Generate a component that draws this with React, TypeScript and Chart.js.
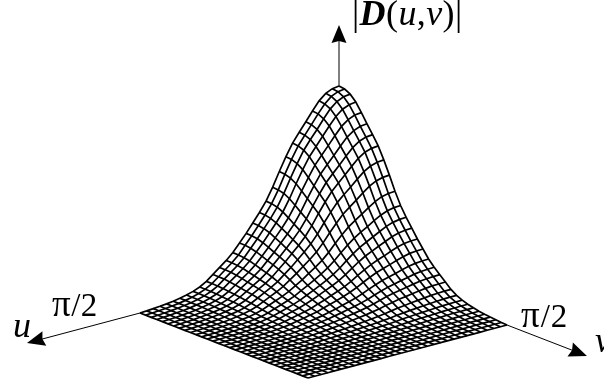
import React, { useEffect, useRef } from "react";
import { Chart, registerables } from "chart.js";

Chart.register(...registerables);

// |D(u,v)| in thousandths of the peak. Rows: u steps, columns: v steps.
const surfaceRows: number[][] = [
  [1000,995,978,945,897,845,795,743,675,600,520,450,395,345,295,250,205,170,140,110,80,58,43,32,24,17,12,8,5,2,0],
  [995,990,973,940,893,841,791,739,672,597,517,448,393,343,294,249,204,169,139,109,80,58,43,32,24,17,12,8,5,2,0],
  [978,973,956,924,877,826,778,727,660,587,509,440,386,337,289,245,200,166,137,108,78,57,42,31,23,17,12,8,5,2,0],
  [945,940,924,893,848,799,751,702,638,567,491,425,373,326,279,236,194,161,132,104,76,55,41,30,23,16,11,8,5,2,0],
  [897,893,877,848,805,758,713,666,605,538,466,404,354,309,265,224,184,152,126,99,72,52,39,29,22,15,11,7,4,2,0],
  [845,841,826,799,758,714,672,628,570,507,439,380,334,292,249,211,173,144,118,93,68,49,36,27,20,14,10,7,4,2,0],
  [795,791,778,751,713,672,632,591,537,477,413,358,314,274,235,199,163,135,111,87,64,46,34,25,19,14,10,6,4,2,0],
  [743,739,727,702,666,628,591,552,502,446,386,334,293,256,219,186,152,126,104,82,59,43,32,24,18,13,9,6,4,1,0],
  [675,672,660,638,605,570,537,502,456,405,351,304,267,233,199,169,138,115,95,74,54,39,29,22,16,11,8,5,3,1,0],
  [600,597,587,567,538,507,477,446,405,360,312,270,237,207,177,150,123,102,84,66,48,35,26,19,14,10,7,5,3,1,0],
  [520,517,509,491,466,439,413,386,351,312,270,234,205,179,153,130,107,88,73,57,42,30,22,17,12,9,6,4,3,1,0],
  [450,448,440,425,404,380,358,334,304,270,234,203,178,155,133,113,92,77,63,50,36,26,19,14,11,8,5,4,2,1,0],
  [395,393,386,373,354,334,314,293,267,237,205,178,156,136,117,99,81,67,55,43,32,23,17,13,9,7,5,3,2,1,0],
  [345,343,337,326,309,292,274,256,233,207,179,155,136,119,102,86,71,59,48,38,28,20,15,11,8,6,4,3,2,1,0],
  [295,294,289,279,265,249,235,219,199,177,153,133,117,102,87,74,60,50,41,32,24,17,13,9,7,5,4,2,1,1,0],
  [250,249,245,236,224,211,199,186,169,150,130,113,99,86,74,63,51,43,35,28,20,15,11,8,6,4,3,2,1,1,0],
  [205,204,200,194,184,173,163,152,138,123,107,92,81,71,60,51,42,35,29,23,16,12,9,7,5,3,2,2,1,0,0],
  [170,169,166,161,152,144,135,126,115,102,88,77,67,59,50,43,35,29,24,19,14,10,7,5,4,3,2,1,1,0,0],
  [140,139,137,132,126,118,111,104,95,84,73,63,55,48,41,35,29,24,20,15,11,8,6,4,3,2,2,1,1,0,0],
  [110,109,108,104,99,93,87,82,74,66,57,50,43,38,32,28,23,19,15,12,9,6,5,4,3,2,1,1,1,0,0],
  [80,80,78,76,72,68,64,59,54,48,42,36,32,28,24,20,16,14,11,9,6,5,3,3,2,1,1,1,0,0,0],
  [58,58,57,55,52,49,46,43,39,35,30,26,23,20,17,15,12,10,8,6,5,3,2,2,1,1,1,0,0,0,0],
  [43,43,42,41,39,36,34,32,29,26,22,19,17,15,13,11,9,7,6,5,3,2,2,1,1,1,1,0,0,0,0],
  [32,32,31,30,29,27,25,24,22,19,17,14,13,11,9,8,7,5,4,4,3,2,1,1,1,1,0,0,0,0,0],
  [24,24,23,23,22,20,19,18,16,14,12,11,9,8,7,6,5,4,3,3,2,1,1,1,1,0,0,0,0,0,0],
  [17,17,17,16,15,14,14,13,11,10,9,8,7,6,5,4,3,3,2,2,1,1,1,1,0,0,0,0,0,0,0],
  [12,12,12,11,11,10,10,9,8,7,6,5,5,4,4,3,2,2,2,1,1,1,1,0,0,0,0,0,0,0,0],
  [8,8,8,8,7,7,6,6,5,5,4,4,3,3,2,2,2,1,1,1,1,0,0,0,0,0,0,0,0,0,0],
  [5,5,5,5,4,4,4,4,3,3,3,2,2,2,1,1,1,1,1,1,0,0,0,0,0,0,0,0,0,0,0],
  [2,2,2,2,2,2,2,1,1,1,1,1,1,1,1,1,0,0,0,0,0,0,0,0,0,0,0,0,0,0,0],
  [0,0,0,0,0,0,0,0,0,0,0,0,0,0,0,0,0,0,0,0,0,0,0,0,0,0,0,0,0,0,0],
];

// Axis ends, in units of the surface's extent (u, v) and of its peak (height).
const uAxisEnd = 1.568;
const vAxisEnd = 1.476;
const heightAxisEnd = 1.35;

const uLabel = "u";
const vLabel = "v";
const piLabel = "π";
const overTwoLabel = "/2";

// Oblique view of the surface
const view = {
  originX: 339, originY: 260,
  uX: -199, uY: 53,
  vX: 168, vY: 65,
  height: 174,
};

type P = { x: number; y: number };
const project = (u: number, v: number, h: number): P => ({
  x: view.originX + u * view.uX + v * view.vX,
  y: view.originY + u * view.uY + v * view.vY - h * view.height,
});

const SERIF = '"Liberation Serif"';
type Run = { text: string; font: string };
const rangeRuns: Run[] = [
  { text: piLabel, font: `37px ${SERIF}` },
  { text: overTwoLabel, font: `33px ${SERIF}` },
];
const labels: { x: number; y: number; spacing: string; runs: Run[] }[] = [
  {
    x: 352, y: 25, spacing: "0.4px",
    runs: [
      { text: "|", font: `36px ${SERIF}` },
      { text: "D", font: `italic bold 36px ${SERIF}` },
      { text: "(", font: `36px ${SERIF}` },
      { text: uLabel, font: `italic 36px ${SERIF}` },
      { text: ",", font: `36px ${SERIF}` },
      { text: vLabel, font: `italic 36px ${SERIF}` },
      { text: ")", font: `36px ${SERIF}` },
      { text: "|", font: `36px ${SERIF}` },
    ],
  },
  { x: 52, y: 316, spacing: "0.5px", runs: rangeRuns },
  { x: 521, y: 327, spacing: "1px", runs: rangeRuns },
  { x: 13, y: 337, spacing: "0px", runs: [{ text: uLabel, font: `italic 36px ${SERIF}` }] },
  { x: 595, y: 352, spacing: "0px", runs: [{ text: vLabel, font: `italic 36px ${SERIF}` }] },
];

const arrowPlugin = {
  id: "axisDecor",
  afterDatasetsDraw(chart: any) {
    const { ctx, scales } = chart;
    const toPx = (p: P) => ({ x: scales.x.getPixelForValue(p.x), y: scales.y.getPixelForValue(p.y) });
    const head = (from: P, to: P) => {
      const a = toPx(from), b = toPx(to);
      const ang = Math.atan2(b.y - a.y, b.x - a.x);
      const len = 18, half = 7.5, notch = 2;
      const cs = Math.cos(ang), sn = Math.sin(ang);
      const bx = b.x - cs * len, by = b.y - sn * len;
      ctx.beginPath();
      ctx.moveTo(b.x, b.y);
      ctx.lineTo(bx - sn * half, by + cs * half);
      ctx.lineTo(bx + cs * notch, by + sn * notch);
      ctx.lineTo(bx + sn * half, by - cs * half);
      ctx.closePath();
      ctx.fillStyle = "#000";
      ctx.fill();
    };
    ctx.save();
    head(project(1, 0, 0), project(uAxisEnd, 0, 0));
    head(project(0, 1, 0), project(0, vAxisEnd, 0));
    head(project(0, 0, 1), project(0, 0, heightAxisEnd));
    ctx.fillStyle = "#000";
    ctx.textBaseline = "alphabetic";
    for (const l of labels) {
      let x = l.x;
      ctx.letterSpacing = l.spacing;
      for (const r of l.runs) {
        ctx.font = r.font;
        ctx.fillText(r.text, x, l.y);
        x += ctx.measureText(r.text).width;
      }
    }
    ctx.restore();
  },
};

export default function App() {
  const ref = useRef<HTMLCanvasElement>(null);
  useEffect(() => {
    const n = surfaceRows.length - 1;
    const mesh = (points: P[]) => ({
      data: points,
      showLine: true,
      borderColor: "#000",
      borderWidth: 1.7,
      pointRadius: 0,
      tension: 0,
    });
    const datasets: any[] = [];
    surfaceRows.forEach((row, i) => {
      datasets.push(mesh(row.map((val, j) => project(i / n, j / n, val / 1000))));
    });
    surfaceRows[0].forEach((_, j) => {
      datasets.push(mesh(surfaceRows.map((row, i) => project(i / n, j / n, row[j] / 1000))));
    });
    const axis = (a: P, b: P) => ({ ...mesh([a, b]), borderWidth: 1 });
    datasets.push(axis(project(1, 0, 0), project(uAxisEnd * 0.985, 0, 0)));
    datasets.push(axis(project(0, 1, 0), project(0, vAxisEnd * 0.985, 0)));
    datasets.push(axis(project(0, 0, 1), project(0, 0, heightAxisEnd * 0.97)));

    const chart = new Chart(ref.current!, {
      type: "scatter",
      data: { datasets },
      plugins: [arrowPlugin],
      options: {
        animation: false,
        responsive: false,
        layout: { padding: 0 },
        plugins: { legend: { display: false }, tooltip: { enabled: false } },
        scales: {
          x: { type: "linear", display: false, min: 0, max: 604 },
          y: { type: "linear", display: false, min: 0, max: 385, reverse: true },
        },
      },
    } as any);
    return () => chart.destroy();
  }, []);
  return (
    <canvas
      ref={ref}
      width={604}
      height={385}
      style={{ position: "fixed", left: 0, top: 0, width: 604, height: 385, background: "#fff" }}
    />
  );
}
